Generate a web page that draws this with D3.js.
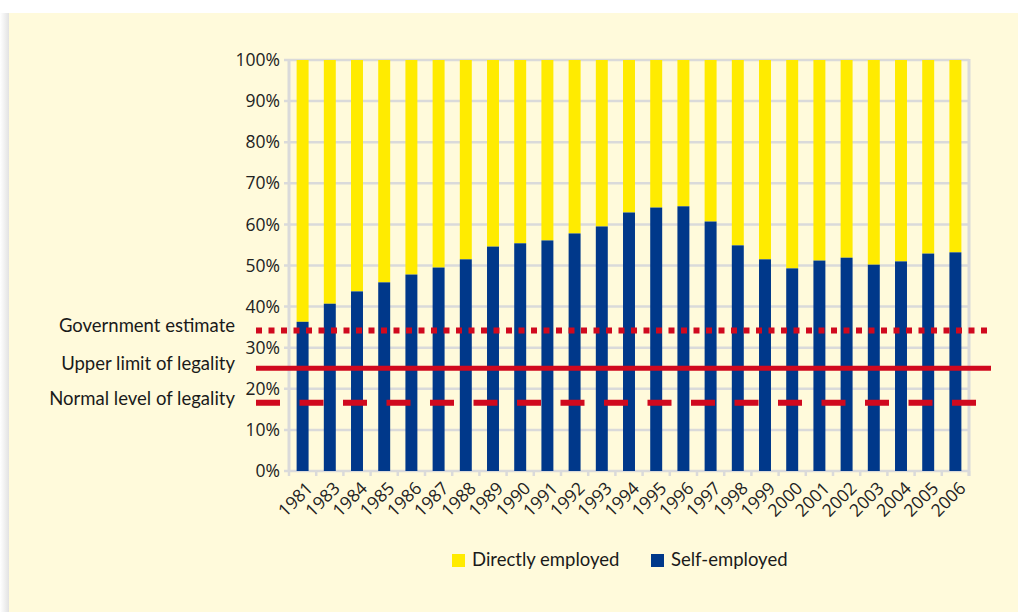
<!DOCTYPE html>
<html>
<head>
<meta charset="utf-8">
<script src="https://cdn.jsdelivr.net/npm/d3@7"></script>
<style>
  body { margin: 0; background: #fff; }
  svg { display: block; }
</style>
</head>
<body>
<script>
const w = 1018, h = 612

// data
const years = ['1981', '1983', '1984', '1985', '1986', '1987', '1988', '1989', '1990', '1991', '1992', '1993',
  '1994', '1995', '1996', '1997', '1998', '1999', '2000', '2001', '2002', '2003', '2004', '2005', '2006']
const selfEmployed = [36.3, 40.7, 43.7, 45.9, 47.8, 49.5, 51.5, 54.6, 55.4, 56.1, 57.8, 59.5,
  62.9, 64.1, 64.4, 60.7, 54.9, 51.5, 49.3, 51.2, 51.9, 50.2, 51.0, 52.9, 53.2]
const seriesNames = ['Directly employed', 'Self-employed']
const refLabels = ['Government estimate', 'Upper limit of legality', 'Normal level of legality']
const refValues = [34.2, 25, 16.6]
const refStyles = ['dotted', 'solid', 'dashed']

const colors = { yellow: '#ffeb00', blue: '#00388a', red: '#d0091e', grid: '#dadada', bg: '#fffadb' }

const svg = d3.select('body').append('svg')
  .attr('width', w)
  .attr('height', h)

// panel with a soft shadow on the left
const defs = svg.append('defs')
const grad = defs.append('linearGradient').attr('id', 'shade')
grad.append('stop').attr('offset', '0%').attr('stop-color', '#ffffff')
grad.append('stop').attr('offset', '100%').attr('stop-color', '#e2e2e2')
svg.append('rect').attr('x', 0).attr('y', 13).attr('width', 9).attr('height', h - 13).attr('fill', 'url(#shade)')
svg.append('rect').attr('x', 9).attr('y', 13).attr('width', w - 9).attr('height', h - 13).attr('fill', colors.bg)

const plotL = 289, plotR = 969, plotT = 60, plotB = 471

const x = d3.scaleBand()
  .domain(years)
  .range([plotL, plotR])
  .paddingInner(0.56)
  .paddingOuter(0.28)

const y = d3.scaleLinear()
  .domain([0, 100])
  .range([plotB, plotT])

// grid
svg.append('g')
  .selectAll('line')
  .data(d3.range(0, 101, 10))
  .join('line')
  .attr('x1', plotL - 5)
  .attr('x2', plotR)
  .attr('y1', d => y(d))
  .attr('y2', d => y(d))
  .attr('stroke', colors.grid)
  .attr('stroke-width', 2.5)

// left / right frame
svg.append('line').attr('x1', plotL).attr('x2', plotL).attr('y1', plotT).attr('y2', plotB)
  .attr('stroke', colors.grid).attr('stroke-width', 3)
svg.append('line').attr('x1', plotR).attr('x2', plotR).attr('y1', plotT - 1).attr('y2', plotB + 5)
  .attr('stroke', colors.grid).attr('stroke-width', 3)

// x ticks at band edges
const edges = years.map(d => x(d) + x.bandwidth() / 2 - x.step() / 2).concat([plotR])
svg.append('g')
  .selectAll('line')
  .data(edges)
  .join('line')
  .attr('x1', d => d)
  .attr('x2', d => d)
  .attr('y1', plotB)
  .attr('y2', plotB + 5)
  .attr('stroke', colors.grid)
  .attr('stroke-width', 2.5)

// y axis labels
const yAxis = d3.axisLeft(y).tickValues(d3.range(0, 101, 10)).tickFormat(d => d + '%').tickSize(0).tickPadding(9)
const ya = svg.append('g').attr('transform', `translate(${plotL}, 0)`).call(yAxis)
ya.select('.domain').remove()
ya.selectAll('text')
  .style('font-family', '"Open Sans", sans-serif')
  .style('font-size', '17.5px')
  .attr('fill', '#222')

// x axis labels
svg.append('g')
  .selectAll('text')
  .data(years)
  .join('text')
  .attr('transform', d => `translate(${x(d) + x.bandwidth() / 2 + 7}, ${plotB + 14}) rotate(-45)`)
  .attr('text-anchor', 'end')
  .attr('dy', '0.35em')
  .style('font-family', '"Open Sans", sans-serif')
  .style('font-size', '17.5px')
  .attr('fill', '#222')
  .text(d => d)

// stacked bars
const rows = years.map((d, i) => ({ year: d, self: selfEmployed[i], direct: 100 - selfEmployed[i] }))

svg.append('g')
  .selectAll('rect')
  .data(rows)
  .join('rect')
  .attr('x', d => x(d.year))
  .attr('width', x.bandwidth())
  .attr('y', y(100))
  .attr('height', d => y(d.self) - y(100))
  .attr('fill', colors.yellow)

svg.append('g')
  .selectAll('rect')
  .data(rows)
  .join('rect')
  .attr('x', d => x(d.year))
  .attr('width', x.bandwidth())
  .attr('y', d => y(d.self))
  .attr('height', d => y(0) - y(d.self))
  .attr('fill', colors.blue)

// reference lines
const dash = { dotted: '6,6.5', solid: null, dashed: '24,19.5' }
const refs = refLabels.map((d, i) => ({ label: d, value: refValues[i], style: refStyles[i] }))

svg.append('g')
  .selectAll('line')
  .data(refs)
  .join('line')
  .attr('x1', 256)
  .attr('x2', 991)
  .attr('y1', d => y(d.value))
  .attr('y2', d => y(d.value))
  .attr('stroke', colors.red)
  .attr('stroke-width', d => d.style == 'solid' ? 5 : 6)
  .attr('stroke-dasharray', d => dash[d.style])

svg.append('g')
  .selectAll('text')
  .data(refs)
  .join('text')
  .attr('x', 235)
  .attr('y', d => y(d.value) + 2)
  .attr('text-anchor', 'end')
  .style('font-family', 'Lato, sans-serif')
  .style('font-size', '18.5px')
  .attr('fill', '#1a1a1a')
  .text(d => d.label)

// legend
const legendX = [452, 651]
const legend = svg.selectAll('.legend')
  .data(seriesNames)
  .join('g')
  .attr('class', 'legend')
  .attr('transform', (d, i) => `translate(${legendX[i]}, 554)`)

legend.append('rect')
  .attr('width', 13)
  .attr('height', 13)
  .attr('fill', (d, i) => i == 0 ? colors.yellow : colors.blue)

legend.append('text')
  .attr('x', 20)
  .attr('y', 12)
  .style('font-family', 'Lato, sans-serif')
  .style('font-size', '18.5px')
  .attr('fill', '#1a1a1a')
  .text(d => d)
</script>
</body>
</html>
